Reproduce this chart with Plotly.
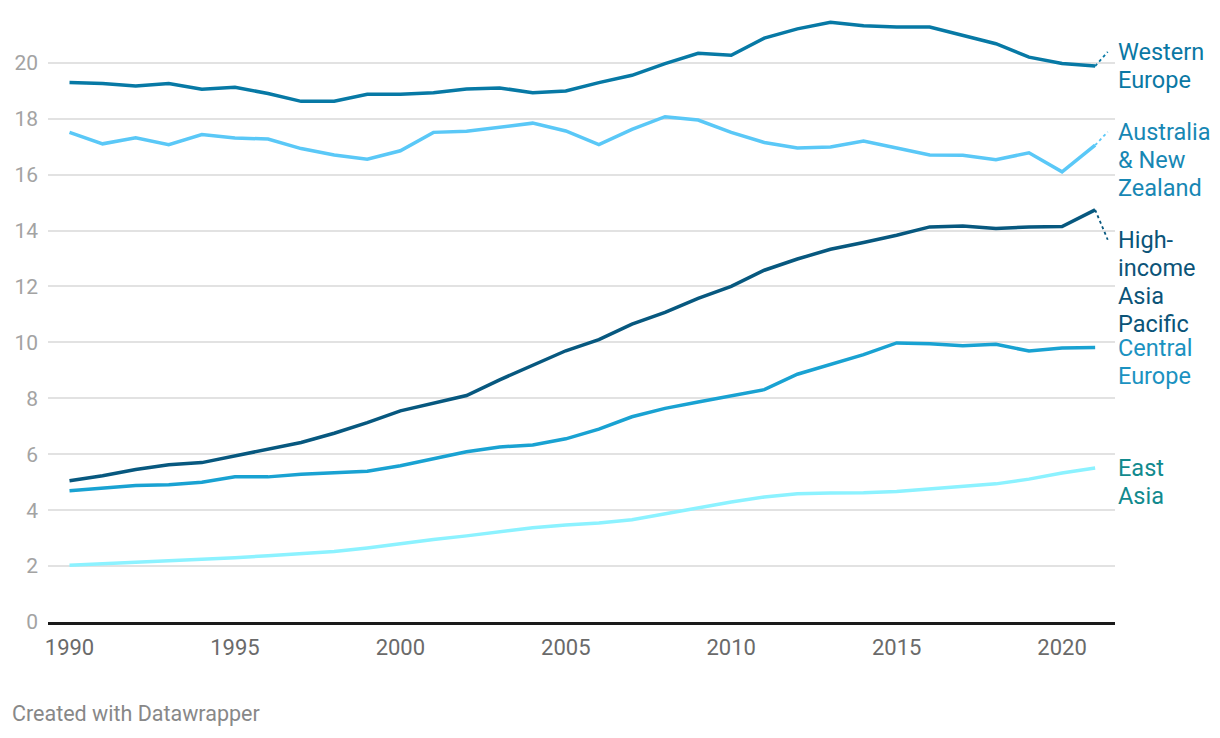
import plotly.graph_objects as go

years = list(range(1990, 2022))

western_europe = [19.29, 19.26, 19.17, 19.26, 19.05, 19.12, 18.90, 18.62, 18.62, 18.87, 18.87, 18.93,
                  19.06, 19.10, 18.93, 18.99, 19.29, 19.55, 19.97, 20.34, 20.27, 20.88, 21.21, 21.45,
                  21.32, 21.28, 21.28, 20.98, 20.68, 20.20, 19.97, 19.88]
australia_nz = [17.51, 17.10, 17.32, 17.07, 17.43, 17.31, 17.27, 16.93, 16.70, 16.55, 16.85, 17.51,
                17.55, 17.69, 17.84, 17.56, 17.07, 17.62, 18.07, 17.95, 17.51, 17.15, 16.95, 16.99,
                17.20, 16.95, 16.70, 16.69, 16.53, 16.78, 16.10, 17.05]
high_income_ap = [5.05, 5.23, 5.45, 5.62, 5.70, 5.94, 6.21, 6.42, 6.75, 7.13, 7.55, 7.82,
                  8.10, 8.66, 9.19, 9.70, 10.10, 10.65, 11.07, 11.57, 12.00, 12.58, 12.98, 13.33,
                  13.57, 13.83, 14.13, 14.16, 14.07, 14.13, 14.14, 14.74]
central_europe = [4.69, 4.78, 4.88, 4.91, 5.00, 5.19, 5.19, 5.28, 5.32, 5.39, 5.59, 5.83,
                  6.09, 6.26, 6.33, 6.55, 6.90, 7.34, 7.64, 7.87, 8.10, 8.31, 8.86, 9.22,
                  9.56, 9.98, 9.95, 9.88, 9.93, 9.69, 9.80, 9.82]
east_asia = [2.03, 2.08, 2.13, 2.18, 2.23, 2.30, 2.37, 2.44, 2.52, 2.65, 2.81, 2.95,
             3.08, 3.23, 3.37, 3.47, 3.54, 3.66, 3.88, 4.08, 4.29, 4.47, 4.59, 4.61,
             4.62, 4.67, 4.76, 4.84, 4.94, 5.11, 5.33, 5.51]

series_labels = [["Western", "Europe"],
                 ["Australia", "& New", "Zealand"],
                 ["High-", "income", "Asia", "Pacific"],
                 ["Central", "Europe"],
                 ["East", "Asia"]]
series_values = [western_europe, australia_nz, high_income_ap, central_europe, east_asia]

y_ticks = [0, 2, 4, 6, 8, 10, 12, 14, 16, 18, 20]
x_ticks = [1990, 1995, 2000, 2005, 2010, 2015, 2020]

# styles
line_colors = ["#0779a5", "#5ac8f7", "#07587f", "#19a2d2", "#8cf2ff"]
label_colors = ["#0a78a4", "#1787b4", "#0b5478", "#1b92c1", "#118a8e"]
label_first_line = [20.39, 17.53, 13.67, 9.80, 5.51]   # value at which first label line sits
label_line_step = 1.0                                  # spacing between label lines (y units)
has_connector = [True, True, True, False, False]

fig = go.Figure()
for lines, vals, col in zip(series_labels, series_values, line_colors):
    fig.add_trace(go.Scatter(x=years, y=vals, mode="lines", name=" ".join(lines),
                             line=dict(color=col, width=3.5), hoverinfo="skip"))

for lines, vals, lcol, tcol, ly, conn in zip(series_labels, series_values, line_colors,
                                             label_colors, label_first_line, has_connector):
    for i, txt in enumerate(lines):
        fig.add_annotation(x=1.0019, xref="paper", y=ly - i * label_line_step, yref="y",
                           text=txt, showarrow=False, xanchor="left", yanchor="middle",
                           align="left", borderpad=0,
                           font=dict(family="Roboto", size=23.5, color=tcol))
    if conn:
        fig.add_shape(type="line", x0=years[-1], y0=vals[-1], x1=years[-1] + 0.38, y1=ly,
                      xref="x", yref="y", line=dict(color=lcol, width=1.8, dash="dot"))

fig.add_annotation(x=-0.0356, xref="paper", y=-0.152, yref="paper",
                   text="Created with Datawrapper", showarrow=False,
                   xanchor="left", yanchor="middle",
                   font=dict(family="Roboto", size=21.5, color="#888888"))

# page body has an 8px margin, so the figure is sized/offset to compensate
fig.update_layout(
    width=1212, height=730,
    margin=dict(l=40, r=105, t=10, b=116, autoexpand=False),
    paper_bgcolor="white", plot_bgcolor="white",
    showlegend=False,
    font=dict(family="Roboto"),
    xaxis=dict(range=[1989.35, 2021.6], tickvals=x_ticks, showgrid=False, zeroline=False,
               showline=True, linecolor="#1a1a1a", linewidth=2.5, ticks="", automargin=False,
               tickfont=dict(family="Roboto", size=22, color="#6a6a6a"), ticklabelstandoff=4),
    yaxis=dict(range=[0, 21.6], tickvals=y_ticks, showgrid=True, gridcolor="#e2e2e2",
               gridwidth=1.5, zeroline=False, ticks="", automargin=False,
               tickfont=dict(family="Roboto", size=21, color="#a3a3a3"), ticklabelstandoff=9),
)

fig.write_html("out.html")
